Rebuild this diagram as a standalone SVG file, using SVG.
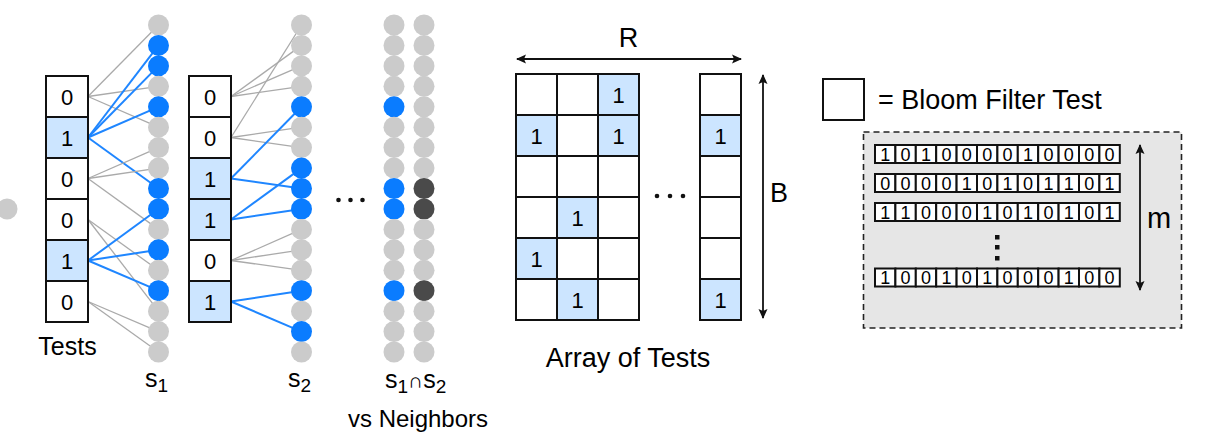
<svg xmlns="http://www.w3.org/2000/svg" width="1207" height="439" viewBox="0 0 1207 439">
<defs>
<style>
text{font-family:"Liberation Sans",Arial,Helvetica,sans-serif;fill:#000}
.cell{fill:#fff;stroke:#111;stroke-width:2}
.on{fill:#cce5ff;stroke:#111;stroke-width:2}
.bit{fill:#fff;stroke:#111;stroke-width:2}
.d{font-size:22px;text-anchor:middle;dominant-baseline:central}
.b{font-size:18px;text-anchor:middle;dominant-baseline:central}
.g{fill:#cbcbcb}
.u{fill:#0a7cff}
.k{fill:#4a4a4a}
.eg{stroke:#aaa;stroke-width:1.3;fill:none}
.eb{stroke:#1f86ff;stroke-width:2;fill:none}
.ar{stroke:#111;stroke-width:1.8;fill:none;marker-start:url(#ah);marker-end:url(#ah)}
.lab{font-size:25px}
</style>
<marker id="ah" viewBox="0 0 10 10" refX="9" refY="5" markerWidth="10" markerHeight="10" orient="auto-start-reverse" markerUnits="userSpaceOnUse"><path d="M0,0.5 L10,5 L0,9.5 L2,5 z" fill="#111"/></marker>
</defs>
<rect width="1207" height="439" fill="#fff"/>

<!-- connectors -->
<g id="connectors">
<line class="eg" x1="88" y1="96.5" x2="158.5" y2="25"/>
<line class="eg" x1="88" y1="96.5" x2="158.5" y2="86.3"/>
<line class="eg" x1="88" y1="96.5" x2="158.5" y2="127.2"/>
<line class="eb" x1="88" y1="137.5" x2="158.5" y2="45.4"/>
<line class="eb" x1="88" y1="137.5" x2="158.5" y2="65.9"/>
<line class="eb" x1="88" y1="137.5" x2="158.5" y2="106.8"/>
<line class="eb" x1="88" y1="137.5" x2="158.5" y2="188.5"/>
<line class="eg" x1="88" y1="178.5" x2="158.5" y2="147.6"/>
<line class="eg" x1="88" y1="178.5" x2="158.5" y2="168.1"/>
<line class="eg" x1="88" y1="178.5" x2="158.5" y2="229.4"/>
<line class="eg" x1="88" y1="219.5" x2="158.5" y2="270.3"/>
<line class="eg" x1="88" y1="219.5" x2="158.5" y2="311.2"/>
<line class="eb" x1="88" y1="260.5" x2="158.5" y2="209"/>
<line class="eb" x1="88" y1="260.5" x2="158.5" y2="249.8"/>
<line class="eb" x1="88" y1="260.5" x2="158.5" y2="290.7"/>
<line class="eg" x1="88" y1="301.5" x2="158.5" y2="331.6"/>
<line class="eg" x1="88" y1="301.5" x2="158.5" y2="352"/>
<line class="eg" x1="231" y1="96.5" x2="301.5" y2="45.4"/>
<line class="eg" x1="231" y1="96.5" x2="301.5" y2="65.9"/>
<line class="eg" x1="231" y1="96.5" x2="301.5" y2="86.3"/>
<line class="eg" x1="231" y1="137.5" x2="301.5" y2="25"/>
<line class="eg" x1="231" y1="137.5" x2="301.5" y2="127.2"/>
<line class="eg" x1="231" y1="137.5" x2="301.5" y2="147.6"/>
<line class="eb" x1="231" y1="178.5" x2="301.5" y2="106.8"/>
<line class="eb" x1="231" y1="178.5" x2="301.5" y2="188.5"/>
<line class="eb" x1="231" y1="219.5" x2="301.5" y2="168.1"/>
<line class="eb" x1="231" y1="219.5" x2="301.5" y2="209"/>
<line class="eg" x1="231" y1="260.5" x2="301.5" y2="229.4"/>
<line class="eg" x1="231" y1="260.5" x2="301.5" y2="249.8"/>
<line class="eg" x1="231" y1="260.5" x2="301.5" y2="270.3"/>
<line class="eb" x1="231" y1="301.5" x2="301.5" y2="290.7"/>
<line class="eb" x1="231" y1="301.5" x2="301.5" y2="331.6"/>
</g>

<g id="node-stray"><circle class="g" cx="7" cy="209" r="10.5"/></g>

<g id="tests1">
<rect class="cell" x="46" y="76" width="42" height="41"/>
<rect class="on" x="46" y="117" width="42" height="41"/>
<rect class="cell" x="46" y="158" width="42" height="41"/>
<rect class="cell" x="46" y="199" width="42" height="41"/>
<rect class="on" x="46" y="240" width="42" height="41"/>
<rect class="cell" x="46" y="281" width="42" height="41"/>
<text class="d" x="67" y="97">0</text>
<text class="d" x="67" y="138">1</text>
<text class="d" x="67" y="179">0</text>
<text class="d" x="67" y="220">0</text>
<text class="d" x="67" y="261">1</text>
<text class="d" x="67" y="302">0</text>
<text class="lab" x="67.5" y="355" text-anchor="middle">Tests</text>
</g>

<g id="tests2">
<rect class="cell" x="189" y="76" width="42" height="41"/>
<rect class="cell" x="189" y="117" width="42" height="41"/>
<rect class="on" x="189" y="158" width="42" height="41"/>
<rect class="on" x="189" y="199" width="42" height="41"/>
<rect class="cell" x="189" y="240" width="42" height="41"/>
<rect class="on" x="189" y="281" width="42" height="41"/>
<text class="d" x="210" y="97">0</text>
<text class="d" x="210" y="138">0</text>
<text class="d" x="210" y="179">1</text>
<text class="d" x="210" y="220">1</text>
<text class="d" x="210" y="261">0</text>
<text class="d" x="210" y="302">1</text>
</g>

<g id="set1">
<circle class="g" cx="158.5" cy="25" r="10.5"/>
<circle class="u" cx="158.5" cy="45.4" r="10.5"/>
<circle class="u" cx="158.5" cy="65.9" r="10.5"/>
<circle class="g" cx="158.5" cy="86.3" r="10.5"/>
<circle class="u" cx="158.5" cy="106.8" r="10.5"/>
<circle class="g" cx="158.5" cy="127.2" r="10.5"/>
<circle class="g" cx="158.5" cy="147.6" r="10.5"/>
<circle class="g" cx="158.5" cy="168.1" r="10.5"/>
<circle class="u" cx="158.5" cy="188.5" r="10.5"/>
<circle class="u" cx="158.5" cy="209" r="10.5"/>
<circle class="g" cx="158.5" cy="229.4" r="10.5"/>
<circle class="u" cx="158.5" cy="249.8" r="10.5"/>
<circle class="g" cx="158.5" cy="270.3" r="10.5"/>
<circle class="u" cx="158.5" cy="290.7" r="10.5"/>
<circle class="g" cx="158.5" cy="311.2" r="10.5"/>
<circle class="g" cx="158.5" cy="331.6" r="10.5"/>
<circle class="g" cx="158.5" cy="352" r="10.5"/>
<text x="145" y="387" font-size="25">s<tspan font-size="19" dy="5">1</tspan></text>
</g>

<g id="set2">
<circle class="g" cx="301.5" cy="25" r="10.5"/>
<circle class="g" cx="301.5" cy="45.4" r="10.5"/>
<circle class="g" cx="301.5" cy="65.9" r="10.5"/>
<circle class="g" cx="301.5" cy="86.3" r="10.5"/>
<circle class="u" cx="301.5" cy="106.8" r="10.5"/>
<circle class="g" cx="301.5" cy="127.2" r="10.5"/>
<circle class="g" cx="301.5" cy="147.6" r="10.5"/>
<circle class="u" cx="301.5" cy="168.1" r="10.5"/>
<circle class="u" cx="301.5" cy="188.5" r="10.5"/>
<circle class="u" cx="301.5" cy="209" r="10.5"/>
<circle class="g" cx="301.5" cy="229.4" r="10.5"/>
<circle class="g" cx="301.5" cy="249.8" r="10.5"/>
<circle class="g" cx="301.5" cy="270.3" r="10.5"/>
<circle class="u" cx="301.5" cy="290.7" r="10.5"/>
<circle class="g" cx="301.5" cy="311.2" r="10.5"/>
<circle class="u" cx="301.5" cy="331.6" r="10.5"/>
<circle class="g" cx="301.5" cy="352" r="10.5"/>
<text x="288" y="387" font-size="25">s<tspan font-size="19" dy="5">2</tspan></text>
</g>

<g id="ellipsis1" fill="#111">
<circle cx="338.5" cy="200" r="2.3"/><circle cx="350.5" cy="200" r="2.3"/><circle cx="362.5" cy="200" r="2.3"/>
</g>

<g id="intersection">
<circle class="g" cx="394" cy="25" r="10.5"/>
<circle class="g" cx="394" cy="45.4" r="10.5"/>
<circle class="g" cx="394" cy="65.9" r="10.5"/>
<circle class="g" cx="394" cy="86.3" r="10.5"/>
<circle class="u" cx="394" cy="106.8" r="10.5"/>
<circle class="g" cx="394" cy="127.2" r="10.5"/>
<circle class="g" cx="394" cy="147.6" r="10.5"/>
<circle class="g" cx="394" cy="168.1" r="10.5"/>
<circle class="u" cx="394" cy="188.5" r="10.5"/>
<circle class="u" cx="394" cy="209" r="10.5"/>
<circle class="g" cx="394" cy="229.4" r="10.5"/>
<circle class="g" cx="394" cy="249.8" r="10.5"/>
<circle class="g" cx="394" cy="270.3" r="10.5"/>
<circle class="u" cx="394" cy="290.7" r="10.5"/>
<circle class="g" cx="394" cy="311.2" r="10.5"/>
<circle class="g" cx="394" cy="331.6" r="10.5"/>
<circle class="g" cx="394" cy="352" r="10.5"/>
</g>
<g id="neighbors">
<circle class="g" cx="424" cy="25" r="10.5"/>
<circle class="g" cx="424" cy="45.4" r="10.5"/>
<circle class="g" cx="424" cy="65.9" r="10.5"/>
<circle class="g" cx="424" cy="86.3" r="10.5"/>
<circle class="g" cx="424" cy="106.8" r="10.5"/>
<circle class="g" cx="424" cy="127.2" r="10.5"/>
<circle class="g" cx="424" cy="147.6" r="10.5"/>
<circle class="g" cx="424" cy="168.1" r="10.5"/>
<circle class="k" cx="424" cy="188.5" r="10.5"/>
<circle class="k" cx="424" cy="209" r="10.5"/>
<circle class="g" cx="424" cy="229.4" r="10.5"/>
<circle class="g" cx="424" cy="249.8" r="10.5"/>
<circle class="g" cx="424" cy="270.3" r="10.5"/>
<circle class="k" cx="424" cy="290.7" r="10.5"/>
<circle class="g" cx="424" cy="311.2" r="10.5"/>
<circle class="g" cx="424" cy="331.6" r="10.5"/>
<circle class="g" cx="424" cy="352" r="10.5"/>
<text x="385" y="388" font-size="25">s<tspan font-size="19" dy="5">1</tspan><tspan font-size="21" dy="-5">∩</tspan>s<tspan font-size="19" dy="5">2</tspan></text>
<text x="418" y="427" font-size="24" text-anchor="middle">vs Neighbors</text>
</g>

<g id="array">
<text x="628.5" y="47" font-size="27" text-anchor="middle">R</text>
<line class="ar" x1="517" y1="59" x2="741" y2="59"/>
<rect class="cell" x="516" y="74" width="41" height="41"/>
<rect class="cell" x="557" y="74" width="41" height="41"/>
<rect class="on" x="598" y="74" width="41" height="41"/>
<rect class="on" x="516" y="115" width="41" height="41"/>
<rect class="cell" x="557" y="115" width="41" height="41"/>
<rect class="on" x="598" y="115" width="41" height="41"/>
<rect class="cell" x="516" y="156" width="41" height="41"/>
<rect class="cell" x="557" y="156" width="41" height="41"/>
<rect class="cell" x="598" y="156" width="41" height="41"/>
<rect class="cell" x="516" y="197" width="41" height="41"/>
<rect class="on" x="557" y="197" width="41" height="41"/>
<rect class="cell" x="598" y="197" width="41" height="41"/>
<rect class="on" x="516" y="238" width="41" height="41"/>
<rect class="cell" x="557" y="238" width="41" height="41"/>
<rect class="cell" x="598" y="238" width="41" height="41"/>
<rect class="cell" x="516" y="279" width="41" height="41"/>
<rect class="on" x="557" y="279" width="41" height="41"/>
<rect class="cell" x="598" y="279" width="41" height="41"/>
<rect class="cell" x="700" y="74" width="41" height="41"/>
<rect class="on" x="700" y="115" width="41" height="41"/>
<rect class="cell" x="700" y="156" width="41" height="41"/>
<rect class="cell" x="700" y="197" width="41" height="41"/>
<rect class="cell" x="700" y="238" width="41" height="41"/>
<rect class="on" x="700" y="279" width="41" height="41"/>
<text class="d" x="618.5" y="95">1</text>
<text class="d" x="536.5" y="136">1</text>
<text class="d" x="618.5" y="136">1</text>
<text class="d" x="577.5" y="218">1</text>
<text class="d" x="536.5" y="259">1</text>
<text class="d" x="577.5" y="300">1</text>
<text class="d" x="720.5" y="136">1</text>
<text class="d" x="720.5" y="300">1</text>
<g fill="#111"><circle cx="657" cy="196" r="2.3"/><circle cx="670" cy="196" r="2.3"/><circle cx="683" cy="196" r="2.3"/></g>
<line class="ar" x1="763" y1="75" x2="763" y2="318"/>
<text x="770" y="202" font-size="27">B</text>
<text x="628" y="367" font-size="27" text-anchor="middle">Array of Tests</text>
</g>

<g id="legend">
<rect class="cell" x="823" y="79" width="41" height="41"/>
<text x="878" y="109" font-size="27">= Bloom Filter Test</text>
</g>

<g id="bloom">
<rect x="863.5" y="132" width="318" height="196" fill="#e6e6e6" stroke="#222" stroke-width="1.6" stroke-dasharray="6,4"/>
<g id="bits1">
<rect class="bit" x="875" y="145" width="20.4" height="18"/><rect class="bit" x="895.4" y="145" width="20.4" height="18"/><rect class="bit" x="915.8" y="145" width="20.4" height="18"/><rect class="bit" x="936.2" y="145" width="20.4" height="18"/><rect class="bit" x="956.6" y="145" width="20.4" height="18"/><rect class="bit" x="977" y="145" width="20.4" height="18"/><rect class="bit" x="997.4" y="145" width="20.4" height="18"/><rect class="bit" x="1017.8" y="145" width="20.4" height="18"/><rect class="bit" x="1038.2" y="145" width="20.4" height="18"/><rect class="bit" x="1058.6" y="145" width="20.4" height="18"/><rect class="bit" x="1079" y="145" width="20.4" height="18"/><rect class="bit" x="1099.4" y="145" width="20.4" height="18"/>
<text class="b" y="154.5"><tspan x="885.2">1</tspan><tspan x="905.6">0</tspan><tspan x="926">1</tspan><tspan x="946.4">0</tspan><tspan x="966.8">0</tspan><tspan x="987.2">0</tspan><tspan x="1007.6">0</tspan><tspan x="1028">1</tspan><tspan x="1048.4">0</tspan><tspan x="1068.8">0</tspan><tspan x="1089.2">0</tspan><tspan x="1109.6">0</tspan></text>
</g>
<g id="bits2">
<rect class="bit" x="875" y="174" width="20.4" height="18"/><rect class="bit" x="895.4" y="174" width="20.4" height="18"/><rect class="bit" x="915.8" y="174" width="20.4" height="18"/><rect class="bit" x="936.2" y="174" width="20.4" height="18"/><rect class="bit" x="956.6" y="174" width="20.4" height="18"/><rect class="bit" x="977" y="174" width="20.4" height="18"/><rect class="bit" x="997.4" y="174" width="20.4" height="18"/><rect class="bit" x="1017.8" y="174" width="20.4" height="18"/><rect class="bit" x="1038.2" y="174" width="20.4" height="18"/><rect class="bit" x="1058.6" y="174" width="20.4" height="18"/><rect class="bit" x="1079" y="174" width="20.4" height="18"/><rect class="bit" x="1099.4" y="174" width="20.4" height="18"/>
<text class="b" y="183.5"><tspan x="885.2">0</tspan><tspan x="905.6">0</tspan><tspan x="926">0</tspan><tspan x="946.4">0</tspan><tspan x="966.8">1</tspan><tspan x="987.2">0</tspan><tspan x="1007.6">1</tspan><tspan x="1028">0</tspan><tspan x="1048.4">1</tspan><tspan x="1068.8">1</tspan><tspan x="1089.2">0</tspan><tspan x="1109.6">1</tspan></text>
</g>
<g id="bits3">
<rect class="bit" x="875" y="203" width="20.4" height="18"/><rect class="bit" x="895.4" y="203" width="20.4" height="18"/><rect class="bit" x="915.8" y="203" width="20.4" height="18"/><rect class="bit" x="936.2" y="203" width="20.4" height="18"/><rect class="bit" x="956.6" y="203" width="20.4" height="18"/><rect class="bit" x="977" y="203" width="20.4" height="18"/><rect class="bit" x="997.4" y="203" width="20.4" height="18"/><rect class="bit" x="1017.8" y="203" width="20.4" height="18"/><rect class="bit" x="1038.2" y="203" width="20.4" height="18"/><rect class="bit" x="1058.6" y="203" width="20.4" height="18"/><rect class="bit" x="1079" y="203" width="20.4" height="18"/><rect class="bit" x="1099.4" y="203" width="20.4" height="18"/>
<text class="b" y="212.5"><tspan x="885.2">1</tspan><tspan x="905.6">1</tspan><tspan x="926">0</tspan><tspan x="946.4">0</tspan><tspan x="966.8">0</tspan><tspan x="987.2">1</tspan><tspan x="1007.6">0</tspan><tspan x="1028">1</tspan><tspan x="1048.4">0</tspan><tspan x="1068.8">1</tspan><tspan x="1089.2">0</tspan><tspan x="1109.6">1</tspan></text>
</g>
<g fill="#111"><rect x="995" y="235" width="4.5" height="4.5"/><rect x="995" y="245" width="4.5" height="4.5"/><rect x="995" y="256" width="4.5" height="4.5"/></g>
<g id="bits4">
<rect class="bit" x="875" y="268.5" width="20.4" height="18"/><rect class="bit" x="895.4" y="268.5" width="20.4" height="18"/><rect class="bit" x="915.8" y="268.5" width="20.4" height="18"/><rect class="bit" x="936.2" y="268.5" width="20.4" height="18"/><rect class="bit" x="956.6" y="268.5" width="20.4" height="18"/><rect class="bit" x="977" y="268.5" width="20.4" height="18"/><rect class="bit" x="997.4" y="268.5" width="20.4" height="18"/><rect class="bit" x="1017.8" y="268.5" width="20.4" height="18"/><rect class="bit" x="1038.2" y="268.5" width="20.4" height="18"/><rect class="bit" x="1058.6" y="268.5" width="20.4" height="18"/><rect class="bit" x="1079" y="268.5" width="20.4" height="18"/><rect class="bit" x="1099.4" y="268.5" width="20.4" height="18"/>
<text class="b" y="278"><tspan x="885.2">1</tspan><tspan x="905.6">0</tspan><tspan x="926">0</tspan><tspan x="946.4">1</tspan><tspan x="966.8">0</tspan><tspan x="987.2">1</tspan><tspan x="1007.6">0</tspan><tspan x="1028">0</tspan><tspan x="1048.4">0</tspan><tspan x="1068.8">1</tspan><tspan x="1089.2">0</tspan><tspan x="1109.6">0</tspan></text>
</g>
<line class="ar" x1="1140" y1="145" x2="1140" y2="290"/>
<text x="1147" y="228" font-size="29">m</text>
</g>
</svg>
